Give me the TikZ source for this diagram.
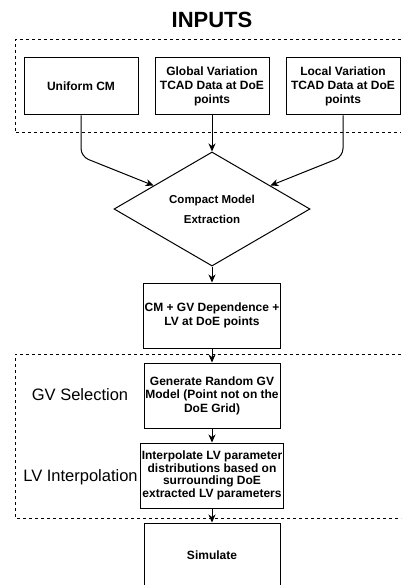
\documentclass[tikz,border=0pt]{standalone}
\usepackage{fontspec}
\setmainfont{Liberation Sans}
\usetikzlibrary{positioning,shapes.geometric,arrows.meta}

\begin{document}
\begin{tikzpicture}[x=1pt, y=-1pt, line width=1pt, node distance=80pt,
  main/.style = {draw, rectangle, align=center, inner sep=1pt, minimum width=136pt, minimum height=65pt, font=\bfseries\fontsize{12}{13.5}\selectfont},
  inbox/.style = {main, minimum width=114pt, minimum height=57pt, font=\bfseries\fontsize{12}{14}\selectfont},
  dec/.style = {draw, diamond, align=center, inner sep=0pt, minimum width=196pt, minimum height=110pt, font=\bfseries\fontsize{11.5}{13.5}\selectfont},
  lbl/.style = {anchor=base, font=\fontsize{16.5}{18}\selectfont},
  arr/.style = {-{Stealth[length=8pt,width=7pt,inset=2.5pt]}},
  grp/.style = {dash pattern=on 3pt off 3pt}]
\useasboundingbox (0,0) rectangle (401,585);
\clip (0,0) rectangle (401,585);
\node[anchor=base, font=\bfseries\fontsize{22}{24}\selectfont] (title) at (212,28) {INPUTS};
\node[inbox] (gv) at (212,86.5) {Global Variation\\TCAD Data at DoE\\points};
\node[inbox] (cm) [left of=gv, node distance=131pt] {Uniform CM};
\node[inbox] (lv) [right of=gv, node distance=131pt] {Local Variation\\TCAD Data at DoE\\points};
\node[dec] (ext) at (212,209) {Compact Model\\[6.5pt]Extraction};
\node[main] (dep) at (212,315.5) {CM + GV Dependence +\\LV at DoE points};
\node[main] (gen) [below of=dep] {Generate Random GV\\Model (Point not on the\\DoE Grid)};
\node[main, font=\bfseries\fontsize{12}{12.5}\selectfont] (interp) [below of=gen] {Interpolate LV parameter\\distributions based on\\surrounding DoE\\extracted LV parameters};
\node[main] (sim) [below of=interp] {Simulate};
\node[lbl] (gvsel) at (80,400) {GV Selection};
\node[lbl] (lvint) at (80.5,481) {LV Interpolation};
% dashed groups
\draw[grp] (401,40) -| (15,133) -- (401,133);
\draw[grp] (401,354) -| (15,518) -- (401,518);
% connectors
\draw[arr, rounded corners=8pt] (cm.south) -- ++(0,41) -- (ext);
\draw[arr] (gv) -- (ext);
\draw[arr, rounded corners=8pt] (lv.south) -- ++(0,41) -- (ext);
\draw[arr] (ext) -- (dep);
\draw[arr] (dep) -- (gen);
\draw[arr] (gen) -- (interp);
\draw[arr] (interp) -- (sim);
\end{tikzpicture}
\end{document}
